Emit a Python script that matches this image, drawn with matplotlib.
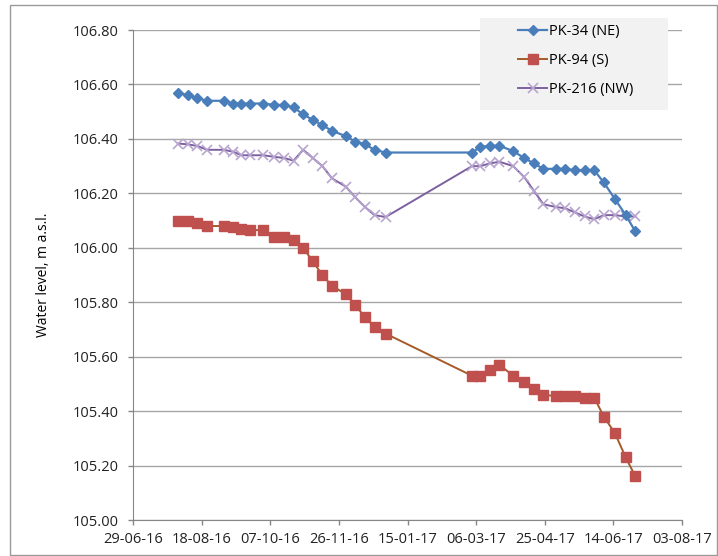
import datetime as dt
import matplotlib
matplotlib.use("Agg")
import matplotlib.pyplot as plt
import matplotlib.dates as mdates
from matplotlib.patches import Rectangle

# sampling dates (shared by the three wells)
dates = ["2016-08-01", "2016-08-08", "2016-08-15", "2016-08-22", "2016-09-03",
         "2016-09-10", "2016-09-16", "2016-09-22", "2016-10-02", "2016-10-10",
         "2016-10-17", "2016-10-24", "2016-10-31", "2016-11-07", "2016-11-14",
         "2016-11-21", "2016-12-01", "2016-12-08", "2016-12-15", "2016-12-22",
         "2016-12-30",
         "2017-03-03", "2017-03-09", "2017-03-16", "2017-03-23", "2017-04-02",
         "2017-04-10", "2017-04-17", "2017-04-24", "2017-05-03", "2017-05-10",
         "2017-05-17", "2017-05-24", "2017-05-31", "2017-06-07", "2017-06-15",
         "2017-06-23", "2017-06-30"]

pk34 = [106.57, 106.56, 106.55, 106.54, 106.54, 106.53, 106.53, 106.53, 106.53,
        106.525, 106.525, 106.516, 106.49, 106.47, 106.45, 106.43, 106.41,
        106.39, 106.38, 106.36, 106.35,
        106.35, 106.37, 106.375, 106.375, 106.355, 106.33, 106.31, 106.29,
        106.29, 106.29, 106.285, 106.285, 106.285, 106.24, 106.18, 106.12, 106.06]

pk94 = [106.10, 106.10, 106.09, 106.08, 106.08, 106.075, 106.07, 106.065, 106.065,
        106.04, 106.04, 106.03, 106.00, 105.95, 105.90, 105.86, 105.83, 105.79,
        105.745, 105.71, 105.685,
        105.53, 105.53, 105.55, 105.57, 105.53, 105.507, 105.48, 105.46, 105.455,
        105.455, 105.455, 105.45, 105.45, 105.38, 105.32, 105.23, 105.16]

pk216 = [106.383, 106.38, 106.374, 106.36, 106.36, 106.353, 106.34, 106.34, 106.34,
         106.334, 106.33, 106.32, 106.36, 106.33, 106.30, 106.255, 106.225,
         106.185, 106.15, 106.12, 106.113,
         106.30, 106.30, 106.31, 106.316, 106.30, 106.26, 106.21, 106.16, 106.15,
         106.145, 106.13, 106.115, 106.105, 106.12, 106.12, 106.115, 106.115]

labels = ["PK-34 (NE)", "PK-94 (S)", "PK-216 (NW)"]

x = [dt.datetime.strptime(d, "%Y-%m-%d") for d in dates]

plt.rcParams['font.family'] = ['Open Sans', 'DejaVu Sans']

fig = plt.figure(figsize=(7.18, 5.56), dpi=100)
ax = fig.add_axes([0.1852, 0.0647, 0.7647, 0.8813])

ax.plot(x, pk34, color='#4A7EBB', marker='D', markersize=5.5, lw=1.6,
        label=labels[0], zorder=4)
ax.plot(x, pk94, color='#A55A2A', marker='s', markersize=7.5, lw=1.4,
        markerfacecolor='#C0504D', markeredgecolor='#C0504D',
        label=labels[1], zorder=3)
ax.plot(x, pk216, color='#7D60A0', marker='x', markersize=7, lw=1.4,
        markeredgecolor='#B7A5D0', markeredgewidth=1.2,
        label=labels[2], zorder=3)

start = dt.datetime(2016, 6, 29)
ax.set_xlim(start, start + dt.timedelta(days=400))
ax.set_xticks([start + dt.timedelta(days=50 * i) for i in range(9)])
ax.xaxis.set_major_formatter(mdates.DateFormatter('%d-%m-%y'))
ax.set_ylim(105.0, 106.8)
ax.set_yticks([105.0 + 0.2 * i for i in range(10)])
ax.yaxis.set_major_formatter(plt.FuncFormatter(lambda v, p: "%.2f" % v))

ax.grid(axis='y', color='#A6A6A6', lw=1.0)
ax.set_axisbelow(True)
for s in ['top', 'right']:
    ax.spines[s].set_visible(False)
for s in ['left', 'bottom']:
    ax.spines[s].set_color('#868686')
ax.tick_params(axis='both', labelsize=10.5, colors='#868686', labelcolor='#222222',
               direction='out', length=3.5, width=1)
ax.tick_params(axis='y', pad=7)
ax.tick_params(axis='x', pad=5)
ax.set_ylabel("Water level, m a.s.l.", fontsize=10)
ax.yaxis.set_label_coords(-0.149, 0.5)

# legend box
fig.patches.append(Rectangle((480 / 718, 1 - 110 / 556), 188 / 718, 92 / 556,
                             transform=fig.transFigure, facecolor='#F2F2F2',
                             edgecolor='none', zorder=5))
leg = fig.legend(loc='upper left', bbox_to_anchor=(518 / 718, 1 - 24 / 556),
                 frameon=False, fontsize=10.5, labelspacing=0.95,
                 handlelength=2.0, handletextpad=0.15, borderaxespad=0,
                 borderpad=0)
leg.set_zorder(10)

fig.patches.append(Rectangle((10 / 718, 1 / 556), 707 / 718, 550 / 556,
                             transform=fig.transFigure, fill=False,
                             edgecolor='#9A9A9A', lw=1))

fig.savefig("out.png", dpi=100)
